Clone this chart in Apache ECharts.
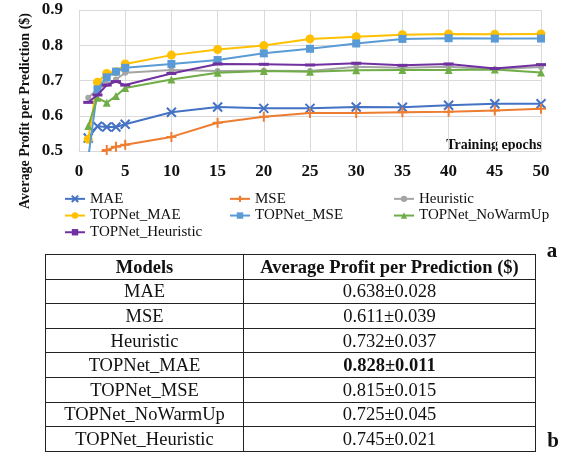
<!DOCTYPE html>
<html><head><meta charset="utf-8">
<script src="https://cdn.jsdelivr.net/npm/echarts@6/dist/echarts.min.js"></script>
<style>
html,body{margin:0;padding:0;background:#fff;}
#c{position:absolute;left:0;top:0;width:569px;height:456px;}
#t{position:absolute;left:45px;top:254px;width:491px;border-collapse:collapse;font-family:"Liberation Serif","Times New Roman",serif;font-size:18.5px;color:#111;}
#t td,#t th{border:1px solid #222;height:23.6px;padding:0;text-align:center;line-height:22px;}
#t th{font-weight:bold;}
</style></head>
<body>
<div id="c"></div>
<table id="t"></table>
<script>
const epochs = [1,2,3,4,5,10,15,20,25,30,35,40,45,50];
const seriesNames = ['MAE','MSE','Heuristic','TOPNet_MAE','TOPNet_MSE','TOPNet_NoWarmUp','TOPNet_Heuristic'];
const mae        = [0.537,0.570,0.568,0.568,0.576,0.610,0.625,0.621,0.621,0.625,0.624,0.630,0.634,0.634];
const mse        = [0.450,0.490,0.503,0.512,0.518,0.540,0.580,0.597,0.608,0.608,0.610,0.611,0.615,0.620];
const heuristic  = [0.651,0.675,0.690,0.703,0.722,0.730,0.727,0.728,0.727,0.739,0.736,0.739,0.732,0.738];
const topMae     = [0.533,0.695,0.720,0.725,0.747,0.772,0.788,0.799,0.818,0.824,0.830,0.832,0.831,0.832];
const topMse     = [0.480,0.675,0.709,0.725,0.736,0.747,0.758,0.777,0.790,0.805,0.818,0.820,0.819,0.819];
const topNoWarm  = [0.571,0.651,0.637,0.656,0.679,0.703,0.722,0.727,0.725,0.729,0.730,0.730,0.731,0.723];
const topHeur    = [0.638,0.659,0.687,0.697,0.687,0.720,0.747,0.746,0.744,0.749,0.743,0.747,0.734,0.745];
const xTicks = [0,5,10,15,20,25,30,35,40,45,50];
const yTicks = [0.5,0.6,0.7,0.8,0.9];

const tableHeader = ['Models','Average Profit per Prediction ($)'];
const tableModels = ['MAE','MSE','Heuristic','TOPNet_MAE','TOPNet_MSE','TOPNet_NoWarmUp','TOPNet_Heuristic'];
const tableMeans  = ['0.638','0.611','0.732','0.828','0.815','0.725','0.745'];
const tableStds   = ['0.028','0.039','0.037','0.011','0.015','0.045','0.021'];
const boldRow = 'TOPNet_MAE';

// table
const t = document.getElementById('t');
let html = '<tr><th>'+tableHeader[0]+'</th><th>'+tableHeader[1]+'</th></tr>';
tableModels.forEach((m,i)=>{
  const v = tableMeans[i]+'±'+tableStds[i];
  html += '<tr><td style="width:197px">'+m+'</td><td>'+(m===boldRow?'<b>'+v+'</b>':v)+'</td></tr>';
});
t.innerHTML = html;

const colors = ['#4472C4','#ED7D31','#A5A5A5','#FFC000','#5B9BD5','#70AD47','#7030A0'];
const symbols = ['path://M0,0L10,10M10,0L0,10','path://M5,0L5,10M0,5L10,5','circle','circle','rect','triangle','rect'];
const symSizes = [9,10,6,9,8,8,[10,3]];
const datas = [mae,mse,heuristic,topMae,topMse,topNoWarm,topHeur];
const serif = '"Liberation Serif","Times New Roman",serif';

const series = seriesNames.map((n,i)=>({
  name:n, type:'line', data: epochs.map((e,j)=>[e,datas[i][j]]),
  symbol:symbols[i], symbolSize:symSizes[i], showAllSymbol:true,
  lineStyle:{color:colors[i],width:2},
  itemStyle:{color:colors[i],borderColor:colors[i],borderWidth:(i<2?2:0)},
  clip:true, z: 2+i
}));

const legendCols = [
  {left:59, names:['MAE','TOPNet_MAE','TOPNet_Heuristic']},
  {left:224, names:['MSE','TOPNet_MSE']},
  {left:388, names:['Heuristic','TOPNet_NoWarmUp']}
];

const chart = echarts.init(document.getElementById('c'));
chart.setOption({
  animation:false,
  backgroundColor:'#fff',
  grid:{left:79,top:10,width:462,height:141},
  xAxis:{type:'value',min:0,max:50,interval:5,
    axisLine:{show:true,lineStyle:{color:'#d9d9d9'}},axisTick:{show:false},
    splitLine:{show:true,lineStyle:{color:'#d9d9d9',width:1}},
    axisLabel:{margin:12,fontFamily:serif,fontWeight:'bold',fontSize:17,color:'#111',
      formatter:v=>xTicks.includes(v)?String(v):''}},
  yAxis:{type:'value',min:0.5,max:0.9,interval:0.1,
    axisLine:{show:false},axisTick:{show:false},
    splitLine:{show:true,lineStyle:{color:'#d9d9d9',width:1}},
    axisLabel:{margin:16,fontFamily:serif,fontWeight:'bold',fontSize:17,color:'#111',
      formatter:v=>v.toFixed(1)}},
  legend: legendCols.map(c=>({
    data:c.names, orient:'vertical', left:c.left, top:185.5,
    itemWidth:20, itemHeight:8, itemGap:0,
    textStyle:{fontFamily:serif,fontSize:15,color:'#111',lineHeight:16.7}
  })),
  graphic:[
    {type:'text',x:25,y:111,rotation:Math.PI/2,
     style:{text:'Average Profit per Prediction ($)',font:'bold 14px '+serif,fill:'#111',align:'center',verticalAlign:'middle'}},
    {type:'text',x:542,y:145,style:{text:'Training epochs',font:'bold 14px '+serif,fill:'#111',align:'right',verticalAlign:'middle'}},
    {type:'text',x:552,y:252,style:{text:'a',font:'bold 21px '+serif,fill:'#111',align:'center',verticalAlign:'middle'}},
    {type:'text',x:553,y:442,style:{text:'b',font:'bold 21px '+serif,fill:'#111',align:'center',verticalAlign:'middle'}}
  ],
  series: series
});
</script>
</body></html>
